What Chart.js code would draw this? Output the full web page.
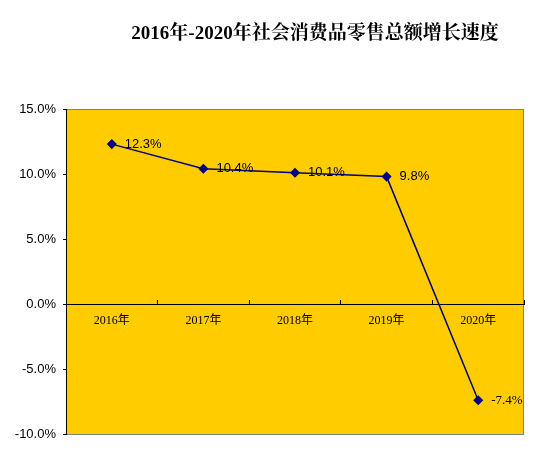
<!DOCTYPE html>
<html>
<head>
<meta charset="utf-8">
<script src="https://cdn.jsdelivr.net/npm/chart.js@4/dist/chart.umd.min.js"></script>
<style>
  body { margin: 0; background: #fff; }
</style>
</head>
<body>
<canvas id="growthChart" width="558" height="470"></canvas>
<script>
// 2016-2020 retail sales growth chart
const chartTitle = "2016年-2020年社会消费品零售总额增长速度";
const years = ["2016年", "2017年", "2018年", "2019年", "2020年"];
const growthRates = [12.3, 10.4, 10.1, 9.8, -7.4];
const yTicks = [-10, -5, 0, 5, 10, 15];

// yellow plot background with grey frame
const plotBackground = {
    id: "plotBackground",
    beforeDraw(chart) {
        const { ctx, chartArea: a } = chart;
        ctx.save();
        ctx.fillStyle = "#FFCC00";
        ctx.fillRect(a.left, a.top, a.right - a.left, a.bottom - a.top);
        ctx.strokeStyle = "#808080";
        ctx.lineWidth = 1;
        ctx.strokeRect(a.left + 0.5, a.top + 0.5, a.right - a.left - 1, a.bottom - a.top);
        ctx.restore();
    }
};

// title + value labels
const textLayer = {
    id: "textLayer",
    afterDraw(chart) {
        const ctx = chart.ctx;
        ctx.save();
        ctx.fillStyle = "#000";
        ctx.textBaseline = "middle";
        ctx.textAlign = "center";
        ctx.font = "bold 19px 'Liberation Serif', 'Noto Serif CJK SC', 'Noto Sans CJK SC'";
        ctx.fillText(chartTitle, 315, 34);

        ctx.textAlign = "left";
        const meta = chart.getDatasetMeta(0);
        meta.data.forEach((pt, i) => {
            const v = growthRates[i];
            ctx.font = v < 0 ? "13px 'Liberation Serif'" : "13px 'Liberation Sans'";
            ctx.fillText(v.toFixed(1) + "%", pt.x + 13, pt.y);
        });
        ctx.restore();
    }
};

const ctx = document.getElementById("growthChart").getContext("2d");
new Chart(ctx, {
    type: "line",
    data: {
        labels: years,
        datasets: [{
            data: growthRates,
            borderColor: "#000080",
            backgroundColor: "#000080",
            borderWidth: 1.5,
            pointStyle: "rectRot",
            pointRadius: 4,
            pointHoverRadius: 4,
            tension: 0
        }]
    },
    options: {
        responsive: false,
        animation: false,
        events: [],
        layout: { padding: { left: 0, right: 34, top: 109, bottom: 36 } },
        plugins: {
            legend: { display: false },
            title: { display: false },
            tooltip: { enabled: false }
        },
        scales: {
            x: {
                type: "category",
                position: { y: 0 },
                offset: true,
                grid: {
                    offset: true,
                    drawOnChartArea: false,
                    drawTicks: true,
                    tickLength: -5,
                    color: "#000"
                },
                border: { color: "#000", width: 1 },
                ticks: {
                    color: "#000",
                    padding: 15,
                    font: { family: "'Liberation Serif', 'Noto Sans CJK SC'", size: 12 }
                }
            },
            y: {
                min: -10,
                max: 15,
                afterBuildTicks(scale) {
                    scale.ticks = yTicks.map(v => ({ value: v }));
                },
                afterFit(scale) {
                    scale.width = 66;
                },
                grid: {
                    drawOnChartArea: false,
                    drawTicks: true,
                    tickLength: 3,
                    color: "#000"
                },
                border: { color: "#000", width: 1 },
                ticks: {
                    color: "#000",
                    padding: 7,
                    font: { family: "'Liberation Sans'", size: 13 },
                    callback: v => v.toFixed(1) + "%"
                }
            }
        }
    },
    plugins: [plotBackground, textLayer]
});
</script>
</body>
</html>
